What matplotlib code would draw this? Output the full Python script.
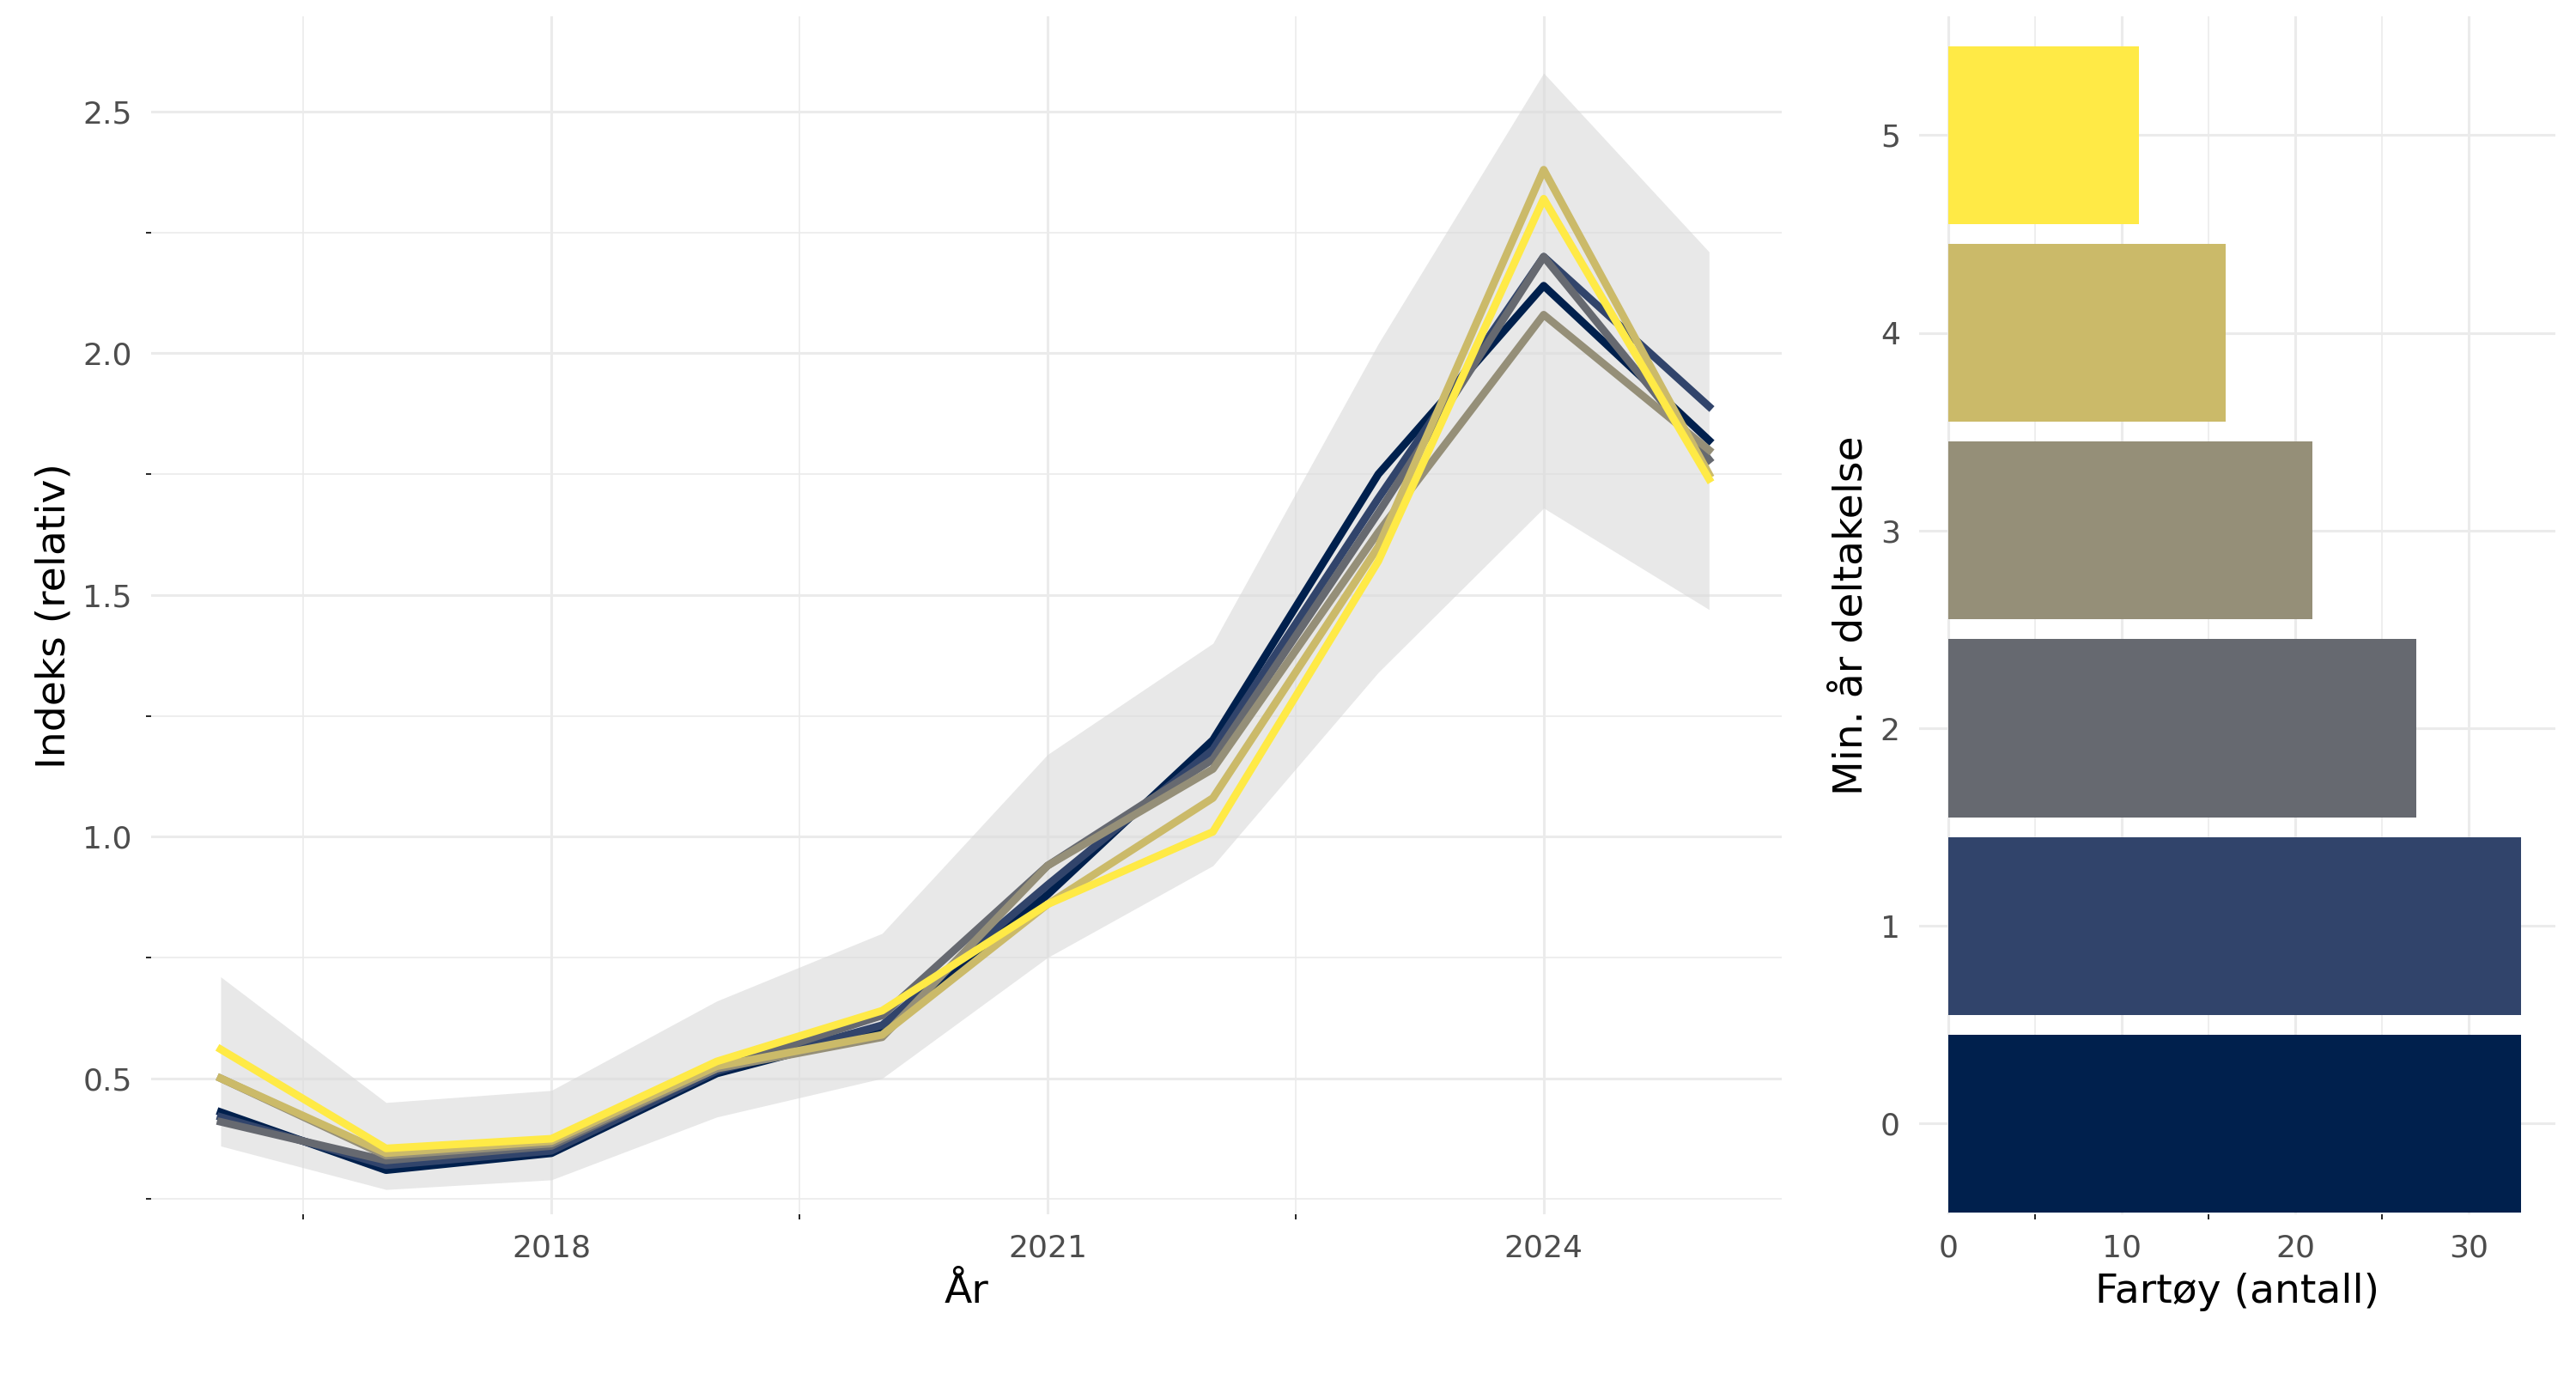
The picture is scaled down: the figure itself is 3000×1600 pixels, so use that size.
import numpy as np
import matplotlib
matplotlib.use("Agg")
import matplotlib.pyplot as plt

years = [2016, 2017, 2018, 2019, 2020, 2021, 2022, 2023, 2024, 2025]
groups = ["0", "1", "2", "3", "4", "5"]
colors = ["#00204D", "#31446B", "#666970", "#958F78", "#CBBA69", "#FFEA46"]

idx_0 = [0.43, 0.31, 0.345, 0.51, 0.60, 0.88, 1.20, 1.75, 2.14, 1.82]
idx_1 = [0.42, 0.32, 0.35, 0.515, 0.61, 0.90, 1.18, 1.70, 2.20, 1.89]
idx_2 = [0.41, 0.33, 0.36, 0.52, 0.63, 0.94, 1.16, 1.67, 2.20, 1.78]
idx_3 = [0.50, 0.34, 0.365, 0.52, 0.585, 0.94, 1.14, 1.63, 2.08, 1.80]
idx_4 = [0.50, 0.345, 0.37, 0.525, 0.59, 0.86, 1.08, 1.60, 2.38, 1.75]
idx_5 = [0.56, 0.355, 0.375, 0.535, 0.64, 0.86, 1.01, 1.57, 2.32, 1.74]
series = [idx_0, idx_1, idx_2, idx_3, idx_4, idx_5]

band_lo = [0.36, 0.27, 0.29, 0.42, 0.50, 0.75, 0.94, 1.34, 1.68, 1.47]
band_hi = [0.71, 0.45, 0.475, 0.66, 0.80, 1.17, 1.40, 2.02, 2.58, 2.21]

vessels = [33, 33, 27, 21, 16, 11]

GRID = "#EBEBEB"
TXT = "#4D4D4D"

fig = plt.figure(figsize=(15, 8), dpi=200, facecolor="white")
ax = fig.add_axes([0.0587, 0.116, 0.633, 0.872])
ax2 = fig.add_axes([0.745, 0.116, 0.247, 0.872])

def minimal(a):
    for s in a.spines.values():
        s.set_visible(False)
    a.tick_params(length=0, labelsize=13, colors=TXT, pad=8)
    a.grid(True, which="major", color=GRID, lw=1.1)
    a.grid(True, which="minor", color=GRID, lw=0.6)
    a.set_axisbelow(True)

# Linjer med bånd
ax.fill_between(years, band_lo, band_hi, color="#D9D9D9", alpha=0.6, lw=0)
for vals, c in zip(series, colors):
    ax.plot(years, vals, color=c, lw=3.2)
ax.set_xlim(2015.58, 2025.44)
ax.set_ylim(0.218, 2.697)
ax.set_xticks([2018, 2021, 2024])
ax.set_xticks([2016.5, 2019.5, 2022.5], minor=True)
ax.set_yticks([0.5, 1.0, 1.5, 2.0, 2.5])
ax.set_yticks([0.25, 0.75, 1.25, 1.75, 2.25], minor=True)
ax.set_yticklabels(["0.5", "1.0", "1.5", "2.0", "2.5"])
minimal(ax)
ax.set_xlabel("År", fontsize=17)
ax.set_ylabel("Indeks (relativ)", fontsize=17)

# Stolper
ypos = np.arange(len(groups))
ax2.barh(ypos, vessels, height=0.9, color=colors)
ax2.set_yticks(ypos)
ax2.set_yticklabels(groups)
ax2.set_xlim(-1.7, 35.0)
ax2.set_ylim(-0.46, 5.6)
ax2.set_xticks([0, 10, 20, 30])
ax2.set_xticks([5, 15, 25], minor=True)
minimal(ax2)
ax2.set_xlabel("Fartøy (antall)", fontsize=17)
ax2.set_ylabel("Min. år deltakelse", fontsize=17)

plt.savefig("out.png", dpi=200, facecolor="white")
